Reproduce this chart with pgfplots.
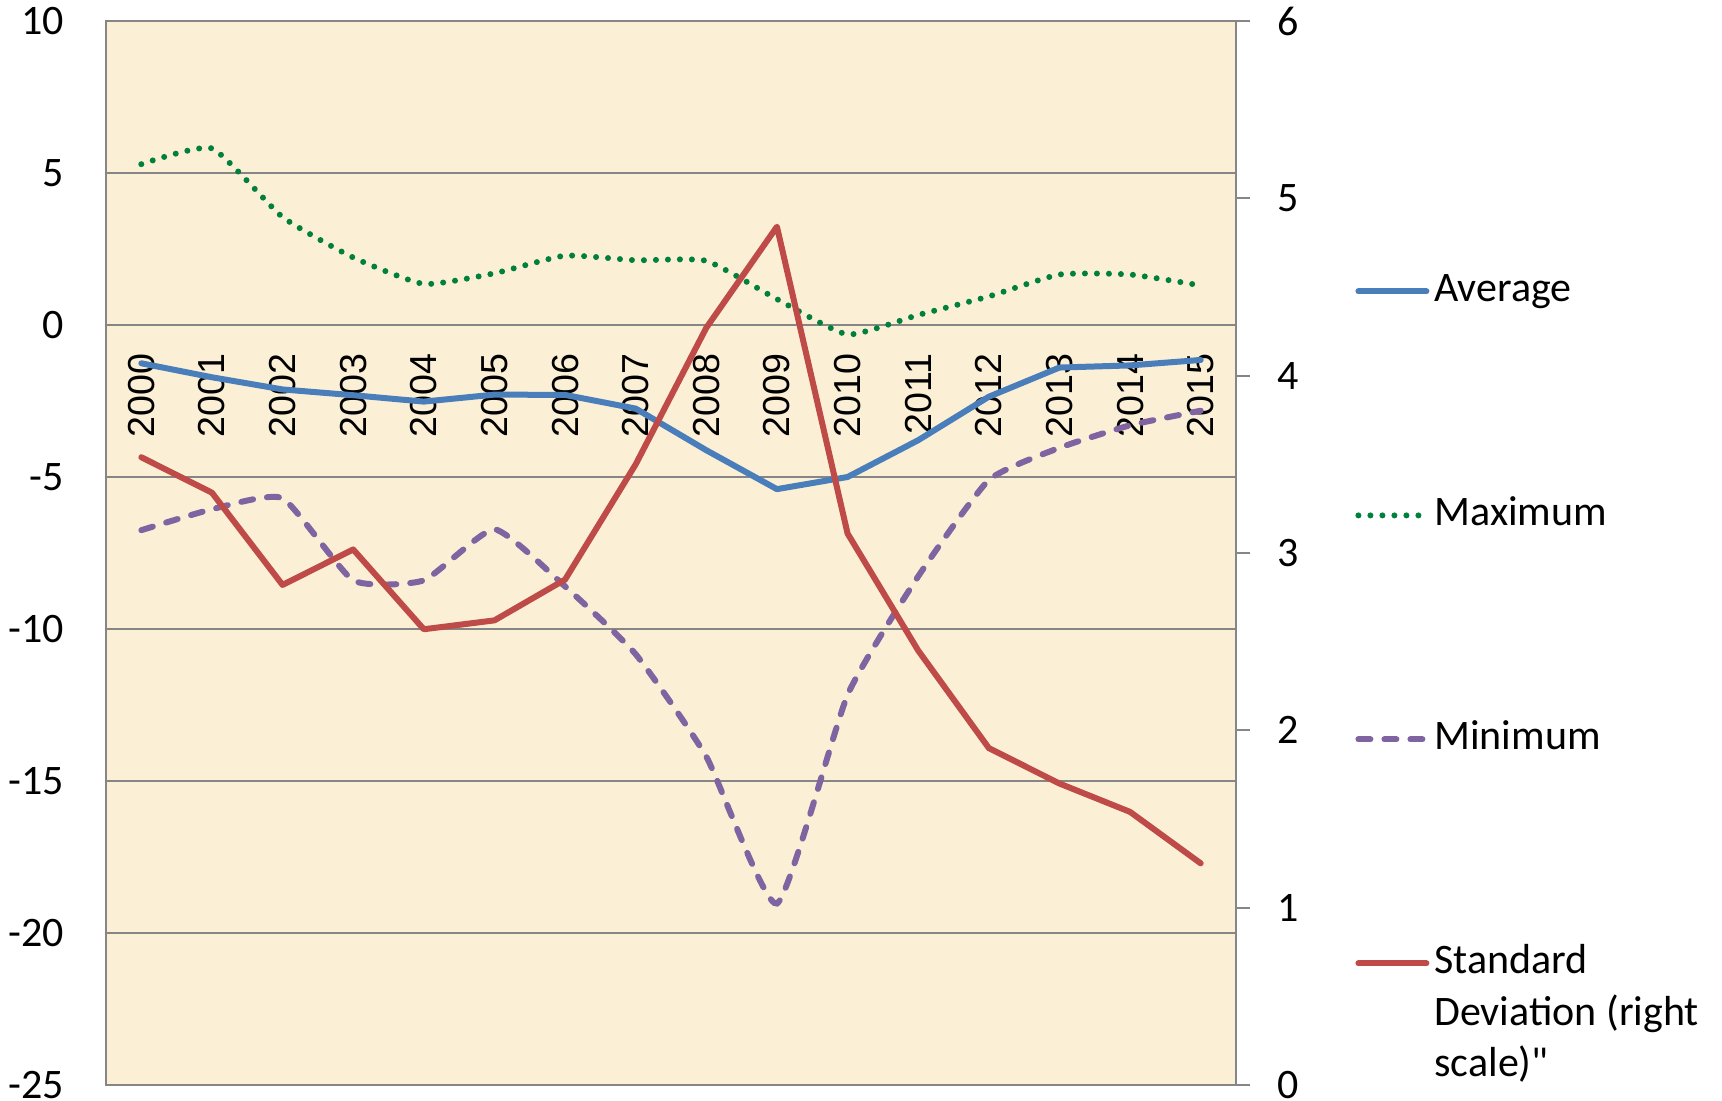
\documentclass[border=0pt]{standalone}
\usepackage{pgfplots}
\usepackage{pgfplotstable}
\pgfplotsset{compat=1.18}
\usepackage{fontspec}
\setmainfont{Carlito}
\newfontfamily\arialfont{Liberation Sans}
% same face without the TeX quote mapping, for a straight double quote
\newfontface\plainquote{Carlito}[Ligatures=TeXOff]

\definecolor{bgbeige}{RGB}{251,240,214}
\definecolor{gridgray}{RGB}{134,134,134}
\definecolor{avgblue}{RGB}{74,126,187}
\definecolor{maxgreen}{RGB}{0,128,60}
\definecolor{minpurple}{RGB}{128,100,162}
\definecolor{sdred}{RGB}{190,75,72}

% year index (0 = 2000), average, maximum, minimum, standard deviation
\pgfplotstableread{
idx avg max min sd
0 -1.26 5.29 -6.75 3.54
1 -1.72 5.81 -6.06 3.34
2 -2.12 3.55 -5.70 2.82
3 -2.31 2.22 -8.40 3.02
4 -2.52 1.35 -8.40 2.57
5 -2.29 1.70 -6.72 2.62
6 -2.30 2.28 -8.60 2.85
7 -2.75 2.13 -10.83 3.50
8 -4.12 2.11 -14.20 4.27
9 -5.40 0.85 -19.03 4.84
10 -5.00 -0.31 -12.17 3.11
11 -3.79 0.33 -8.27 2.45
12 -2.36 0.94 -5.10 1.90
13 -1.40 1.66 -4.04 1.70
14 -1.33 1.66 -3.30 1.54
15 -1.15 1.30 -2.82 1.25
}\datatable

\newcommand{\chartfont}{\fontsize{21}{25.8}\selectfont}

\begin{document}
\begin{tikzpicture}
\useasboundingbox (-53pt,-8pt) rectangle (808pt,542.5pt);
% left scale: average, maximum, minimum
\begin{axis}[
  at={(0,0)}, anchor=south west,
  scale only axis, width=565pt, height=532pt,
  xmin=-0.5, xmax=15.5, ymin=-25, ymax=10,
  xtick={0,...,15},
  xticklabels={2000,2001,2002,2003,2004,2005,2006,2007,2008,2009,2010,2011,2012,2013,2014,2015},
  ytick={-25,-20,...,10},
  ymajorgrids,
  grid style={gridgray, line width=1pt},
  axis line style={gridgray, line width=1pt},
  tick style={draw=none},
  axis background/.style={fill=bgbeige},
  /pgf/number format/assume math mode=true,
  yticklabel style={font=\chartfont, inner sep=0pt, xshift=-21pt},
  xticklabel style={font=\arialfont\fontsize{18.8}{22}\selectfont, inner sep=0pt, yshift=366pt, rotate=90, anchor=east},
]
\addplot[avgblue, line width=3pt, line join=round, line cap=round] table[x=idx, y=avg]{\datatable};
\addplot[maxgreen, line width=3pt, line cap=round, dash pattern=on 0pt off 6pt, smooth, tension=0.3] table[x=idx, y=max]{\datatable};
\addplot[minpurple, line width=3pt, line cap=round, dash pattern=on 6pt off 7pt, smooth, tension=0.3] table[x=idx, y=min]{\datatable};
\end{axis}
% right scale: standard deviation, plus the legend
\begin{axis}[
  at={(0,0)}, anchor=south west,
  scale only axis, width=565pt, height=532pt,
  xmin=-0.5, xmax=15.5, ymin=0, ymax=6,
  ytick={0,...,6},
  axis x line=none, axis y line*=right,
  axis line style={gridgray, line width=1pt},
  ytick style={gridgray, line width=1pt},
  tick align=outside, major tick length=7pt,
  /pgf/number format/assume math mode=true,
  yticklabel style={font=\chartfont, inner sep=0pt, xshift=13.5pt},
  legend cell align=left,
  legend image code/.code={\draw[#1] (0pt,0pt) -- (34pt,0pt);},
  legend style={at={(axis description cs:1,1)}, anchor=north west,
    xshift=59.5pt, yshift=-125pt, draw=none, fill=none, inner sep=0pt,
    row sep=92pt,
    nodes={inner sep=0pt, text height=15pt, text depth=5pt, font=\chartfont},
    /tikz/every odd column/.append style={column sep=2.5pt}},
]
\addlegendimage{avgblue, line width=3pt, line cap=round}
\addlegendentry{Average}
\addlegendimage{maxgreen, line width=3pt, line cap=round, dash pattern=on 0pt off 6pt}
\addlegendentry{Maximum}
\addlegendimage{minpurple, line width=3pt, line cap=round, dash pattern=on 6pt off 7pt}
\addlegendentry{Minimum}
\addplot[sdred, line width=3pt, line join=round, line cap=round] table[x=idx, y=sd]{\datatable};
\addlegendentry{\begin{tabular}[t]{@{}l@{}}Standard\\Deviation (right\\scale){\plainquote"}\end{tabular}}
\end{axis}
\end{tikzpicture}
\end{document}
